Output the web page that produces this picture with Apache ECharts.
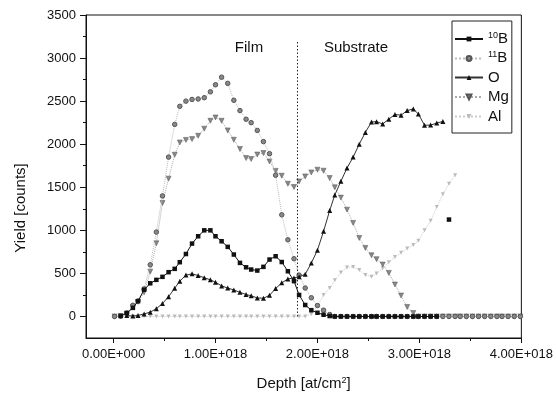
<!DOCTYPE html>
<html>
<head>
<meta charset="utf-8">
<script src="https://cdn.jsdelivr.net/npm/echarts@6/dist/echarts.min.js"></script>
<style>
  html, body { margin: 0; padding: 0; background: #fff; }
  #chart { width: 556px; height: 398px; }
</style>
</head>
<body>
<div id="chart"></div>
<script>
// depth channels, in units of 1E+018 at/cm2
const depth = [
  0.01, 0.07, 0.13, 0.19, 0.24, 0.30, 0.36, 0.42, 0.48, 0.54,
  0.60, 0.65, 0.71, 0.77, 0.83, 0.89, 0.95, 1.00, 1.06, 1.12,
  1.18, 1.24, 1.30, 1.35, 1.41, 1.47, 1.53, 1.59, 1.65, 1.71,
  1.77, 1.82, 1.88, 1.94, 2.00, 2.06, 2.12, 2.17, 2.23, 2.29,
  2.35, 2.41, 2.47, 2.53, 2.58, 2.64, 2.70, 2.76, 2.82, 2.88,
  2.94, 2.99, 3.05, 3.11, 3.17, 3.23, 3.29, 3.35, 3.40, 3.46,
  3.52, 3.58, 3.64, 3.70, 3.76, 3.81, 3.87, 3.93, 3.99
]

const b10 = [
  null, 5, 40, 100, 177, 310, 385, 425, 460, 514,
  553, 630, 725, 846, 931, 1000, 1000, 931, 873, 808,
  719, 622, 571, 545, 533, 576, 661, 699, 632, 525,
  410, 250, 133, 73, 43, 20, 5, 0, 0, 0,
  0, 0, 0, 0, 0, 0, 0, 0, 0, 0,
  0, 0, 0, 0, 0, null, 1125, null, null, null,
  null, null, null, null, null, null, null, null, null
]

const b11 = [
  0, 5, 40, 130, 180, 320, 600, 980, 1400, 1850,
  2230, 2440, 2500, 2520, 2525, 2540, 2608, 2690, 2778, 2706,
  2510, 2390, 2290, 2250, 2160, 2030, 1890, 1640, 1180, 890,
  670, 480, 330, 217, 127, 73, 23, 0, 0, 0,
  0, 0, 0, 0, 0, 0, 0, 0, 0, 0,
  0, 0, 0, 0, 0, 0, 0, 0, 0, 0,
  0, 0, 0, 0, 0, 0, 0, 0, 0
]

const oxy = [
  null, null, 10, 5, 12, 30, 50, 90, 150, 230,
  328, 410, 480, 495, 475, 450, 425, 398, 355, 330,
  308, 280, 255, 240, 215, 212, 245, 325, 390, 435,
  448, 462, 490, 620, 770, 989, 1230, 1410, 1570, 1723,
  1850, 2000, 2137, 2258, 2262, 2235, 2291, 2345, 2337, 2390,
  2410, 2350, 2220, 2222, 2245, 2264, null, null, null, null,
  null, null, null, null, null, null, null, null, null
]

const mg = [
  0, 5, 30, 110, 170, 280, 520, 850, 1317, 1600,
  1878, 2020, 2050, 2059, 2098, 2180, 2272, 2310, 2272, 2160,
  2052, 1944, 1839, 1828, 1880, 1897, 1800, 1690, 1634, 1541,
  1503, 1568, 1626, 1672, 1704, 1692, 1607, 1500, 1380, 1240,
  1086, 912, 796, 710, 665, 603, 506, 371, 243, 110,
  40, 0, 0, 0, 0, 0, 0, 0, 0, 0,
  0, 0, 0, 0, 0, 0, 0, 0, 0
]

const al = [
  0, 0, 0, 0, 0, 0, 0, 0, 0, 0,
  0, 0, 0, 0, 0, 0, 0, 0, 0, 0,
  0, 0, 0, 0, 0, 0, 0, 0, 0, 0,
  0, 0, 0, 30, 120, 250, 330, 420, 510, 568,
  575, 540, 480, 462, 500, 560, 630, 690, 740, 790,
  830, 880, 1000, 1110, 1270, 1420, 1540, 1640, null, null,
  null, null, null, null, null, null, null, null, null
]

const seriesNames = ['10B', '11B', 'O', 'Mg', 'Al']
const xTicks = [0, 1, 2, 3, 4]
const xMinorTicks = [0.5, 1.5, 2.5, 3.5]
const xTickLabels = ['0.00E+000', '1.00E+018', '2.00E+018', '3.00E+018', '4.00E+018']
const yTicks = [0, 500, 1000, 1500, 2000, 2500, 3000, 3500]
const yMinorTicks = [250, 750, 1250, 1750, 2250, 2750, 3250]
const boundaryDepth = 1.8
const boundaryTop = 3200

const FONT = '"Liberation Sans", Arial, sans-serif'

const pairs = vals => depth.map((d, i) => [d, vals[i] == null ? '-' : vals[i]])

const chart = echarts.init(document.getElementById('chart'))

const baseY = { type: 'value', min: -250, max: 3500, gridIndex: 0, splitLine: { show: false } }
const baseX = { type: 'value', min: -0.27, max: 4, gridIndex: 0, splitLine: { show: false } }

const option = {
  animation: false,
  backgroundColor: '#fff',
  textStyle: { fontFamily: FONT },
  grid: {
    left: 86, right: 32, top: 15, bottom: 60,
    show: true, borderColor: '#111', borderWidth: 1, backgroundColor: 'transparent'
  },
  xAxis: [
    {
      ...baseX,
      position: 'bottom',
      axisLine: { show: true, onZero: false, lineStyle: { color: '#111', width: 1 } },
      axisTick: { show: true, customValues: xTicks, length: 5, lineStyle: { color: '#111' } },
      axisLabel: {
        show: true, customValues: xTicks, margin: 10, color: '#111', fontSize: 13, fontFamily: FONT,
        formatter: v => xTickLabels[xTicks.indexOf(v)] || ''
      },
      name: 'Depth [at/cm{sup|2}]',
      nameLocation: 'middle',
      nameGap: 38,
      nameTextStyle: {
        color: '#111', fontSize: 15, fontFamily: FONT,
        rich: {
          sup: { fontSize: 9, fontFamily: FONT, color: '#111', verticalAlign: 'bottom', padding: [0, 0, 6, 0] }
        }
      }
    },
    {
      ...baseX,
      position: 'bottom',
      axisLine: { show: false, onZero: false },
      axisTick: { show: true, customValues: xMinorTicks, length: 3, lineStyle: { color: '#111' } },
      axisLabel: { show: false }
    }
  ],
  yAxis: [
    {
      ...baseY,
      position: 'left',
      axisLine: { show: true, onZero: false, lineStyle: { color: '#111', width: 1 } },
      axisTick: { show: true, customValues: yTicks, length: 6, lineStyle: { color: '#111' } },
      axisLabel: {
        show: true, customValues: yTicks, margin: 10, color: '#111', fontSize: 13, fontFamily: FONT,
        formatter: v => String(v)
      }
    },
    {
      ...baseY,
      position: 'left',
      axisLine: { show: false, onZero: false },
      axisTick: { show: true, customValues: yMinorTicks, length: 3, lineStyle: { color: '#111' } },
      axisLabel: { show: false }
    }
  ],
  legend: {
    orient: 'vertical',
    left: 452, top: 21,
    padding: [10, 3, 9, 2],
    itemGap: 4.5,
    itemWidth: 28, itemHeight: 6,
    backgroundColor: '#fff',
    borderColor: '#222', borderWidth: 1,
    data: seriesNames,
    textStyle: {
      color: '#111', fontSize: 15, fontFamily: FONT, lineHeight: 14,
      rich: {
        sup: { fontSize: 9, fontFamily: FONT, color: '#111', verticalAlign: 'bottom', lineHeight: 14, padding: [0, 0, 6, 0] },
        b: { fontSize: 15, fontFamily: FONT, color: '#111', verticalAlign: 'bottom', lineHeight: 14 }
      }
    },
    formatter: name => {
      if (name === '10B') return '{sup|10}{b|B}'
      if (name === '11B') return '{sup|11}{b|B}'
      return name
    }
  },
  graphic: [
    { type: 'text', x: 249, y: 48, style: { text: 'Film', fill: '#111', font: '15px ' + FONT, textAlign: 'center', textVerticalAlign: 'middle' } },
    { type: 'text', x: 356, y: 48, style: { text: 'Substrate', fill: '#111', font: '15px ' + FONT, textAlign: 'center', textVerticalAlign: 'middle' } },
    { type: 'text', x: 21, y: 208, rotation: Math.PI / 2, style: { text: 'Yield [counts]', fill: '#111', font: '15px ' + FONT, textAlign: 'center', textVerticalAlign: 'middle' } }
  ],
  series: [
    {
      name: '10B', type: 'line', data: pairs(b10), z: 6,
      symbol: 'rect', symbolSize: 4.5, showAllSymbol: true,
      itemStyle: { color: '#111' },
      lineStyle: { color: '#111', width: 1 },
      markLine: {
        silent: true, symbol: ['none', 'none'], label: { show: false },
        lineStyle: { color: '#222', type: [1.5, 2], width: 1 },
        data: [[{ coord: [boundaryDepth, 0] }, { coord: [boundaryDepth, boundaryTop] }]]
      }
    },
    {
      name: '11B', type: 'line', data: pairs(b11), z: 4,
      symbol: 'circle', symbolSize: 4.5, showAllSymbol: true,
      itemStyle: { color: '#888', borderColor: '#555', borderWidth: 1 },
      lineStyle: { color: '#bbb', width: 1, type: 'dotted' }
    },
    {
      name: 'O', type: 'line', data: pairs(oxy), z: 5,
      symbol: 'triangle', symbolSize: 5, showAllSymbol: true,
      itemStyle: { color: '#111' },
      lineStyle: { color: '#333', width: 1 }
    },
    {
      name: 'Mg', type: 'line', data: pairs(mg), z: 3,
      symbol: 'triangle', symbolRotate: 180, symbolSize: 5, showAllSymbol: true,
      itemStyle: { color: '#888', borderColor: '#555', borderWidth: 0.5 },
      lineStyle: { color: '#aaa', width: 1, type: 'dotted' }
    },
    {
      name: 'Al', type: 'line', data: pairs(al), z: 2,
      symbol: 'triangle', symbolRotate: 180, symbolSize: 4, showAllSymbol: true,
      itemStyle: { color: '#bbb' },
      lineStyle: { color: '#ccc', width: 1, type: 'dotted' }
    }
  ]
}

chart.setOption(option)
</script>
</body>
</html>
